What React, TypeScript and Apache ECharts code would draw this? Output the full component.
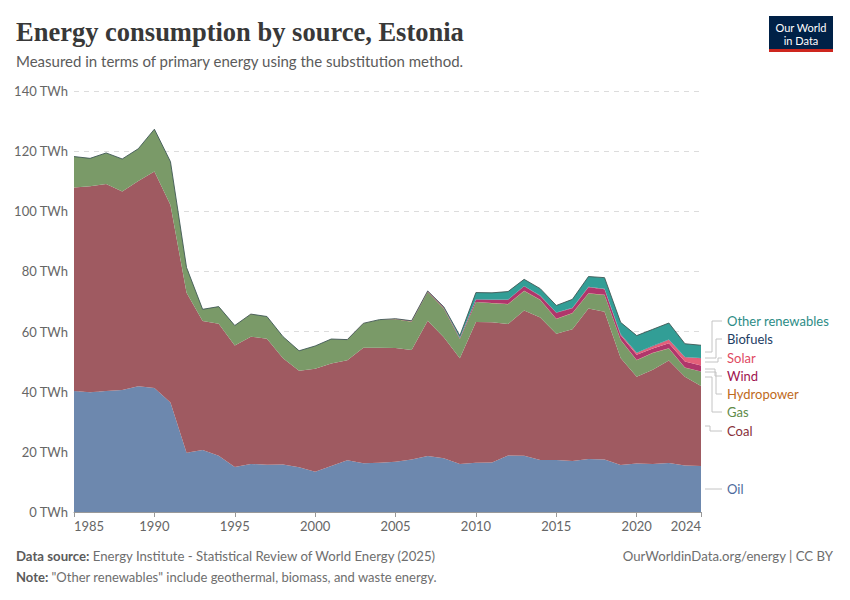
import React, { useEffect, useRef } from "react";
import * as echarts from "echarts";

const years = [
  "1985", "1986", "1987", "1988", "1989", "1990", "1991", "1992", "1993", "1994",
  "1995", "1996", "1997", "1998", "1999", "2000", "2001", "2002", "2003", "2004",
  "2005", "2006", "2007", "2008", "2009", "2010", "2011", "2012", "2013", "2014",
  "2015", "2016", "2017", "2018", "2019", "2020", "2021", "2022", "2023", "2024",
];

const oil = [
  40.2, 39.8, 40.2, 40.6, 41.8, 41.2, 36.4, 19.7, 20.6, 18.7,
  15.0, 16.0, 15.7, 15.8, 14.9, 13.4, 15.3, 17.2, 16.2, 16.4,
  16.7, 17.5, 18.6, 17.9, 16.0, 16.4, 16.5, 18.8, 18.7, 17.3,
  17.3, 17.0, 17.6, 17.5, 15.6, 16.1, 16.0, 16.3, 15.5, 15.3,
];
const coal = [
  67.7, 68.5, 68.9, 66.0, 68.3, 72.0, 65.7, 53.2, 42.9, 43.9,
  40.4, 42.3, 41.9, 35.3, 32.1, 34.2, 34.1, 33.3, 38.4, 38.2,
  37.8, 36.4, 45.0, 40.2, 35.1, 46.8, 46.6, 43.7, 48.3, 47.4,
  42.0, 43.8, 50.1, 49.1, 35.6, 28.9, 31.3, 34.1, 29.5, 26.6,
];
const gas = [
  10.3, 9.3, 10.3, 10.8, 10.7, 14.1, 14.4, 8.4, 3.9, 5.7,
  6.6, 7.5, 7.4, 7.2, 6.6, 7.6, 8.1, 6.8, 8.1, 9.3,
  9.6, 9.4, 9.6, 9.6, 6.4, 6.6, 6.3, 6.6, 6.5, 5.8,
  4.9, 5.3, 5.0, 5.6, 6.0, 5.5, 5.6, 4.0, 3.0, 4.8,
];
const hydropower = [
  0.0, 0.0, 0.0, 0.0, 0.0, 0.0, 0.0, 0.0, 0.0, 0.0,
  0.01, 0.01, 0.01, 0.01, 0.01, 0.01, 0.02, 0.02, 0.03, 0.05,
  0.05, 0.06, 0.06, 0.07, 0.07, 0.07, 0.08, 0.1, 0.07, 0.07,
  0.07, 0.09, 0.07, 0.05, 0.06, 0.06, 0.05, 0.05, 0.05, 0.05,
];
const wind = [
  0, 0, 0, 0, 0, 0, 0, 0, 0, 0,
  0, 0, 0, 0, 0, 0, 0, 0.01, 0.02, 0.02,
  0.1, 0.2, 0.2, 0.3, 0.3, 0.8, 1.1, 1.4, 1.5, 1.3,
  2.0, 1.6, 2.0, 1.8, 1.5, 1.7, 1.4, 1.7, 2.0, 2.0,
];
const solar = [
  0, 0, 0, 0, 0, 0, 0, 0, 0, 0,
  0, 0, 0, 0, 0, 0, 0, 0, 0, 0,
  0, 0, 0, 0, 0, 0, 0, 0, 0, 0.01,
  0.01, 0.02, 0.03, 0.08, 0.3, 0.6, 0.8, 1.1, 1.4, 2.4,
];
const biofuels = [
  0, 0, 0, 0, 0, 0, 0, 0, 0, 0,
  0, 0, 0, 0, 0, 0, 0, 0, 0, 0,
  0.02, 0.03, 0.05, 0.05, 0.05, 0.1, 0.1, 0.1, 0.1, 0.1,
  0.1, 0.1, 0.1, 0.1, 0.1, 0.1, 0.1, 0.1, 0.1, 0.1,
];
const otherRenewables = [
  0, 0, 0, 0, 0, 0, 0, 0, 0, 0,
  0, 0, 0, 0, 0, 0, 0, 0, 0, 0,
  0, 0, 0, 0.1, 0.7, 2.2, 2.2, 2.6, 2.2, 2.3,
  2.3, 2.8, 3.4, 3.7, 3.9, 5.7, 5.5, 5.5, 4.4, 4.2,
];

const yTicks = ["0 TWh", "20 TWh", "40 TWh", "60 TWh", "80 TWh", "100 TWh", "120 TWh", "140 TWh"];

const sources = [
  { name: "Oil", data: oil, fill: "#6D88AE", text: "#4C6A9C" },
  { name: "Coal", data: coal, fill: "#9F5A61", text: "#883039" },
  { name: "Gas", data: gas, fill: "#7A9A68", text: "#5E8A48" },
  { name: "Hydropower", data: hydropower, fill: "#C8833F", text: "#BE6A1C" },
  { name: "Wind", data: wind, fill: "#B0366B", text: "#A0144F" },
  { name: "Solar", data: solar, fill: "#E4607A", text: "#E04A62" },
  { name: "Biofuels", data: biofuels, fill: "#1D3D63", text: "#1D3D63" },
  { name: "Other renewables", data: otherRenewables, fill: "#329E96", text: "#2C8C86" },
];

const FONT = "Lato, 'Noto Sans', sans-serif";

export default function App() {
  const ref = useRef<HTMLDivElement>(null);
  useEffect(() => {
    const chart = echarts.init(ref.current!, null, { renderer: "svg" });

    const showYear = (_i: number, v: string) => Number(v) % 5 === 0 || v === "2024";

    const series = sources.map((s, i) => ({
      name: s.name,
      type: "line",
      stack: "total",
      data: s.data,
      symbol: "none",
      showSymbol: false,
      silent: true,
      z: 2 + i,
      itemStyle: { color: s.fill },
      areaStyle: { color: s.fill, opacity: 1 },
      lineStyle:
        s.name === "Other renewables"
          ? { color: "#3f5856", width: 0.9 }
          : { width: 0, color: s.fill },
    }));

    const legend = [
      { name: "Other renewables", ly: 321, py: 352, ex: 712 },
      { name: "Biofuels", ly: 339, py: 358, ex: 716 },
      { name: "Solar", ly: 358, py: 362, ex: 718 },
      { name: "Wind", ly: 376, py: 369, ex: 715 },
      { name: "Hydropower", ly: 394, py: 372, ex: 716 },
      { name: "Gas", ly: 412, py: 377, ex: 712 },
      { name: "Coal", ly: 431, py: 426, ex: 710 },
      { name: "Oil", ly: 489, py: 489, ex: 712 },
    ];

    const legendGraphics: any[] = [];
    legend.forEach((l) => {
      const src = sources.find((s) => s.name === l.name)!;
      legendGraphics.push({
        type: "polyline",
        silent: true,
        shape: {
          points: [
            [705, l.py],
            [l.ex, l.py],
            [l.ex, l.ly],
            [722, l.ly],
          ],
        },
        style: { stroke: "#c4c4c4", lineWidth: 1, fill: null },
      });
      legendGraphics.push({
        type: "text",
        x: 727,
        y: l.ly,
        style: {
          text: l.name,
          font: `13px ${FONT}`,
          fill: src.text,
          verticalAlign: "middle",
          align: "left",
        },
      });
    });

    chart.setOption({
      animation: false,
      backgroundColor: "#ffffff",
      grid: { left: 74, right: 149, top: 91, bottom: 88 },
      xAxis: {
        type: "category",
        boundaryGap: false,
        data: years,
        axisLine: { show: true, lineStyle: { color: "#999", width: 1 } },
        axisTick: {
          show: true,
          interval: showYear,
          length: 5,
          lineStyle: { color: "#999" },
        },
        axisLabel: {
          interval: showYear,
          color: "#666",
          fontFamily: FONT,
          fontSize: 13,
          margin: 7,
          alignMinLabel: "left",
          alignMaxLabel: "right",
        },
        splitLine: { show: false },
      },
      yAxis: {
        type: "value",
        min: 0,
        max: 140,
        interval: 20,
        axisLine: { show: false },
        axisTick: { show: false },
        axisLabel: {
          color: "#666",
          fontFamily: FONT,
          fontSize: 13,
          margin: 6,
          formatter: (v: number) => yTicks[Math.round(v / 20)],
        },
        splitLine: { lineStyle: { color: "#dcdcdc", type: [5, 5], width: 1 } },
      },
      series,
      graphic: [
        {
          type: "text",
          x: 16,
          y: 32,
          style: {
            text: "Energy consumption by source, Estonia",
            font: "bold 26.5px 'Liberation Serif', 'DejaVu Serif', serif",
            fill: "#383838",
            verticalAlign: "middle",
          },
        },
        {
          type: "text",
          x: 16,
          y: 61,
          style: {
            text: "Measured in terms of primary energy using the substitution method.",
            font: `15px ${FONT}`,
            fill: "#5b5b5b",
            verticalAlign: "middle",
          },
        },
        { type: "rect", shape: { x: 769, y: 16, width: 64, height: 36 }, style: { fill: "#002147" } },
        { type: "rect", shape: { x: 769, y: 49, width: 64, height: 3 }, style: { fill: "#CE261E" } },
        {
          type: "text",
          x: 801,
          y: 27,
          style: { text: "Our World", font: `11px ${FONT}`, fill: "#fff", align: "center", verticalAlign: "middle", lineHeight: 11 },
        },
        {
          type: "text",
          x: 801,
          y: 40,
          style: { text: "in Data", font: `11px ${FONT}`, fill: "#fff", align: "center", verticalAlign: "middle", lineHeight: 11 },
        },
        ...legendGraphics,
        {
          type: "text",
          x: 16,
          y: 556,
          style: {
            text: "{b|Data source:} {n|Energy Institute - Statistical Review of World Energy (2025)}",
            verticalAlign: "middle",
            rich: {
              b: { font: `bold 13.2px ${FONT}`, fill: "#5b5b5b" },
              n: { font: `13.2px ${FONT}`, fill: "#6e6e6e" },
            },
          },
        },
        {
          type: "text",
          x: 833,
          y: 556,
          style: {
            text: "OurWorldinData.org/energy | CC BY",
            font: `13.2px ${FONT}`,
            fill: "#6e6e6e",
            align: "right",
            verticalAlign: "middle",
          },
        },
        {
          type: "text",
          x: 16,
          y: 577,
          style: {
            text: '{b|Note:} {n|"Other renewables" include geothermal, biomass, and waste energy.}',
            verticalAlign: "middle",
            rich: {
              b: { font: `bold 13px ${FONT}`, fill: "#5b5b5b" },
              n: { font: `13px ${FONT}`, fill: "#6e6e6e" },
            },
          },
        },
      ],
    });
    return () => chart.dispose();
  }, []);
  return (
    <div
      ref={ref}
      style={{ position: "fixed", left: 0, top: 0, width: 850, height: 600, background: "#fff" }}
    />
  );
}
